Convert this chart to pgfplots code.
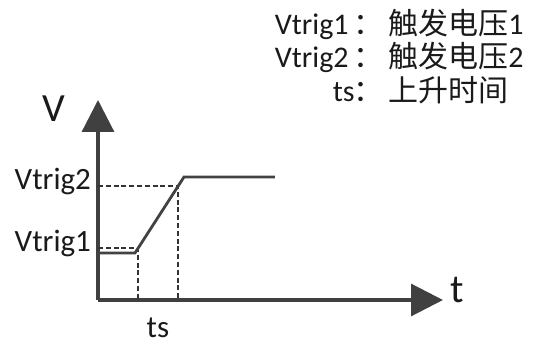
\documentclass[border=0pt]{standalone}
\usepackage{pgfplots}
\pgfplotsset{compat=1.18}
\usepackage{fontspec}
\setmainfont{Carlito}
\newfontfamily\cjk{Noto Sans CJK SC}
\usetikzlibrary{arrows.meta}

\definecolor{axgray}{HTML}{404040}
\definecolor{sig}{HTML}{424242}
\definecolor{guidegray}{HTML}{333333}
\definecolor{txt}{HTML}{1A1A1A}

\begin{document}
\begin{tikzpicture}
\begin{axis}[
    scale only axis,
    width=172.5pt, height=100pt,
    xmin=0, xmax=345,
    ymin=0, ymax=200,
    axis lines=left,
    axis line style={line width=1.6pt, draw=axgray, -{Triangle[length=16pt,width=16pt]}},
    clip=false,
    major tick length=0pt,
    xtick={60}, xticklabels={ts},
    ytick={52,114}, yticklabels={Vtrig1,Vtrig2},
    tick label style={font=\fontsize{15.5}{18}\selectfont, text=txt},
    xticklabel style={anchor=base, yshift=-19pt},
    yticklabel style={anchor=base east, yshift=-1.7pt},
    xlabel={t}, ylabel={V},
    label style={font=\fontsize{20}{24}\selectfont, text=txt},
    xlabel style={at={(axis description cs:1.0406,-0.015)}, anchor=base},
    ylabel style={at={(axis description cs:-0.1275,0.89)}, anchor=base, rotate=-90},
]
% reserve the figure area
\path (axis cs:-98,-40) rectangle (axis cs:438,300);

% trigger levels (dashed guides)
\addplot[guidegray, line width=1pt, dash pattern=on 2.5pt off 1.4pt] coordinates {(0,52) (40,52) (40,0)};
\addplot[guidegray, line width=1pt, dash pattern=on 2.5pt off 1.4pt] coordinates {(0,114) (80,114) (80,0)};

% voltage waveform
\addplot[sig, line width=1.4pt] coordinates {(0,47) (37,47) (86,123) (177,123)};

% explanation text
\begin{scope}[every node/.style={font=\fontsize{15}{18}\selectfont, text=txt, inner sep=0pt}]
\node[anchor=base east] at (axis cs:251,265) {Vtrig1};
\node[anchor=base] at (axis cs:271,265) {\cjk ：};
\node[anchor=base west] at (axis cs:290,265) {{\cjk 触发电压}1};
\node[anchor=base east] at (axis cs:251,232) {Vtrig2};
\node[anchor=base] at (axis cs:271,232) {\cjk ：};
\node[anchor=base west] at (axis cs:290,232) {{\cjk 触发电压}2};
\node[anchor=base east] at (axis cs:257,198) {ts};
\node[anchor=base] at (axis cs:271,198) {\cjk ：};
\node[anchor=base west] at (axis cs:290,198) {\cjk 上升时间};
\end{scope}
\end{axis}
\end{tikzpicture}
\end{document}
